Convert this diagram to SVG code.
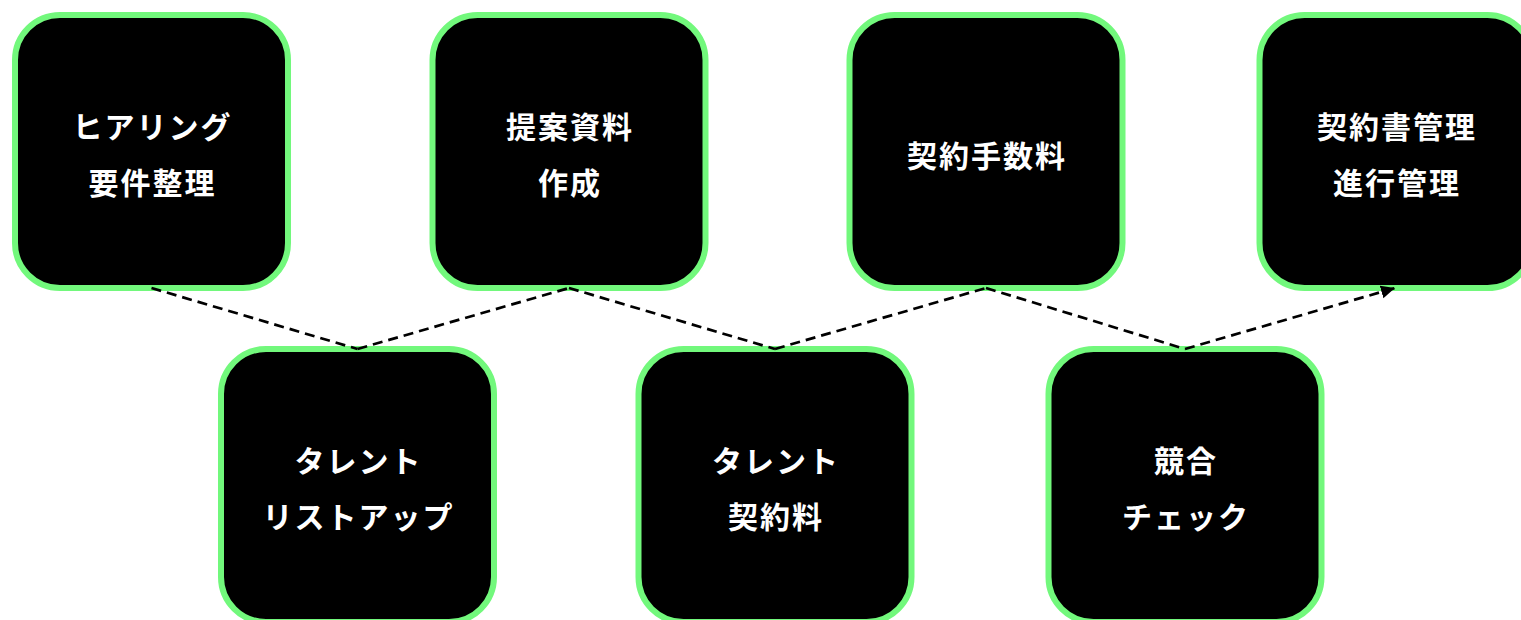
<svg xmlns="http://www.w3.org/2000/svg" width="1521" height="620" viewBox="0 0 1521 620">
<defs>
<style>
.box{fill:#000;stroke:#72f87c;stroke-width:6}
.lbl{fill:#fff;font-family:"Noto Sans CJK JP","Noto Sans",sans-serif;font-weight:bold;font-size:30px;letter-spacing:2px;text-anchor:middle}
.edge{fill:none;stroke:#000;stroke-width:2.7;stroke-dasharray:10,6}
</style>
<marker id="arr" markerUnits="userSpaceOnUse" markerWidth="16" markerHeight="14" refX="14" refY="6.5" orient="auto">
<path d="M0,0 L14,6.5 L0,13 z" fill="#000"/>
</marker>
</defs>
<rect width="1521" height="620" fill="#fff"/>
<g id="n1"><rect class="box" x="15" y="15" width="273" height="273" rx="45"/>
<text class="lbl" x="152.5" y="137.5">ヒアリング</text><text class="lbl" x="152.5" y="193.5">要件整理</text></g>
<g id="n2"><rect class="box" x="432.5" y="15" width="273" height="273" rx="45"/>
<text class="lbl" x="570" y="137.5">提案資料</text><text class="lbl" x="570" y="193.5">作成</text></g>
<g id="n3"><rect class="box" x="849.5" y="15" width="273" height="273" rx="45"/>
<text class="lbl" x="987" y="167">契約手数料</text></g>
<g id="n4"><rect class="box" x="1259.5" y="15" width="273" height="273" rx="45"/>
<text class="lbl" x="1397" y="137.5">契約書管理</text><text class="lbl" x="1397" y="193.5">進行管理</text></g>
<g id="n5"><rect class="box" x="221" y="349" width="273" height="273" rx="45"/>
<text class="lbl" x="358.5" y="472">タレント</text><text class="lbl" x="358.5" y="528">リストアップ</text></g>
<g id="n6"><rect class="box" x="638.5" y="349" width="273" height="273" rx="45"/>
<text class="lbl" x="776" y="472">タレント</text><text class="lbl" x="776" y="528">契約料</text></g>
<g id="n7"><rect class="box" x="1048.5" y="349" width="273" height="273" rx="45"/>
<text class="lbl" x="1186" y="472">競合</text><text class="lbl" x="1186" y="528">チェック</text></g>
<g id="connectors">
<line class="edge" x1="151.5" y1="288" x2="357.5" y2="349"/>
<line class="edge" x1="357.5" y1="349" x2="569" y2="288"/>
<line class="edge" x1="569" y1="288" x2="775" y2="349"/>
<line class="edge" x1="775" y1="349" x2="986" y2="288"/>
<line class="edge" x1="986" y1="288" x2="1185" y2="349"/>
<line class="edge" x1="1185" y1="349" x2="1395" y2="288" marker-end="url(#arr)"/>
</g>
</svg>
